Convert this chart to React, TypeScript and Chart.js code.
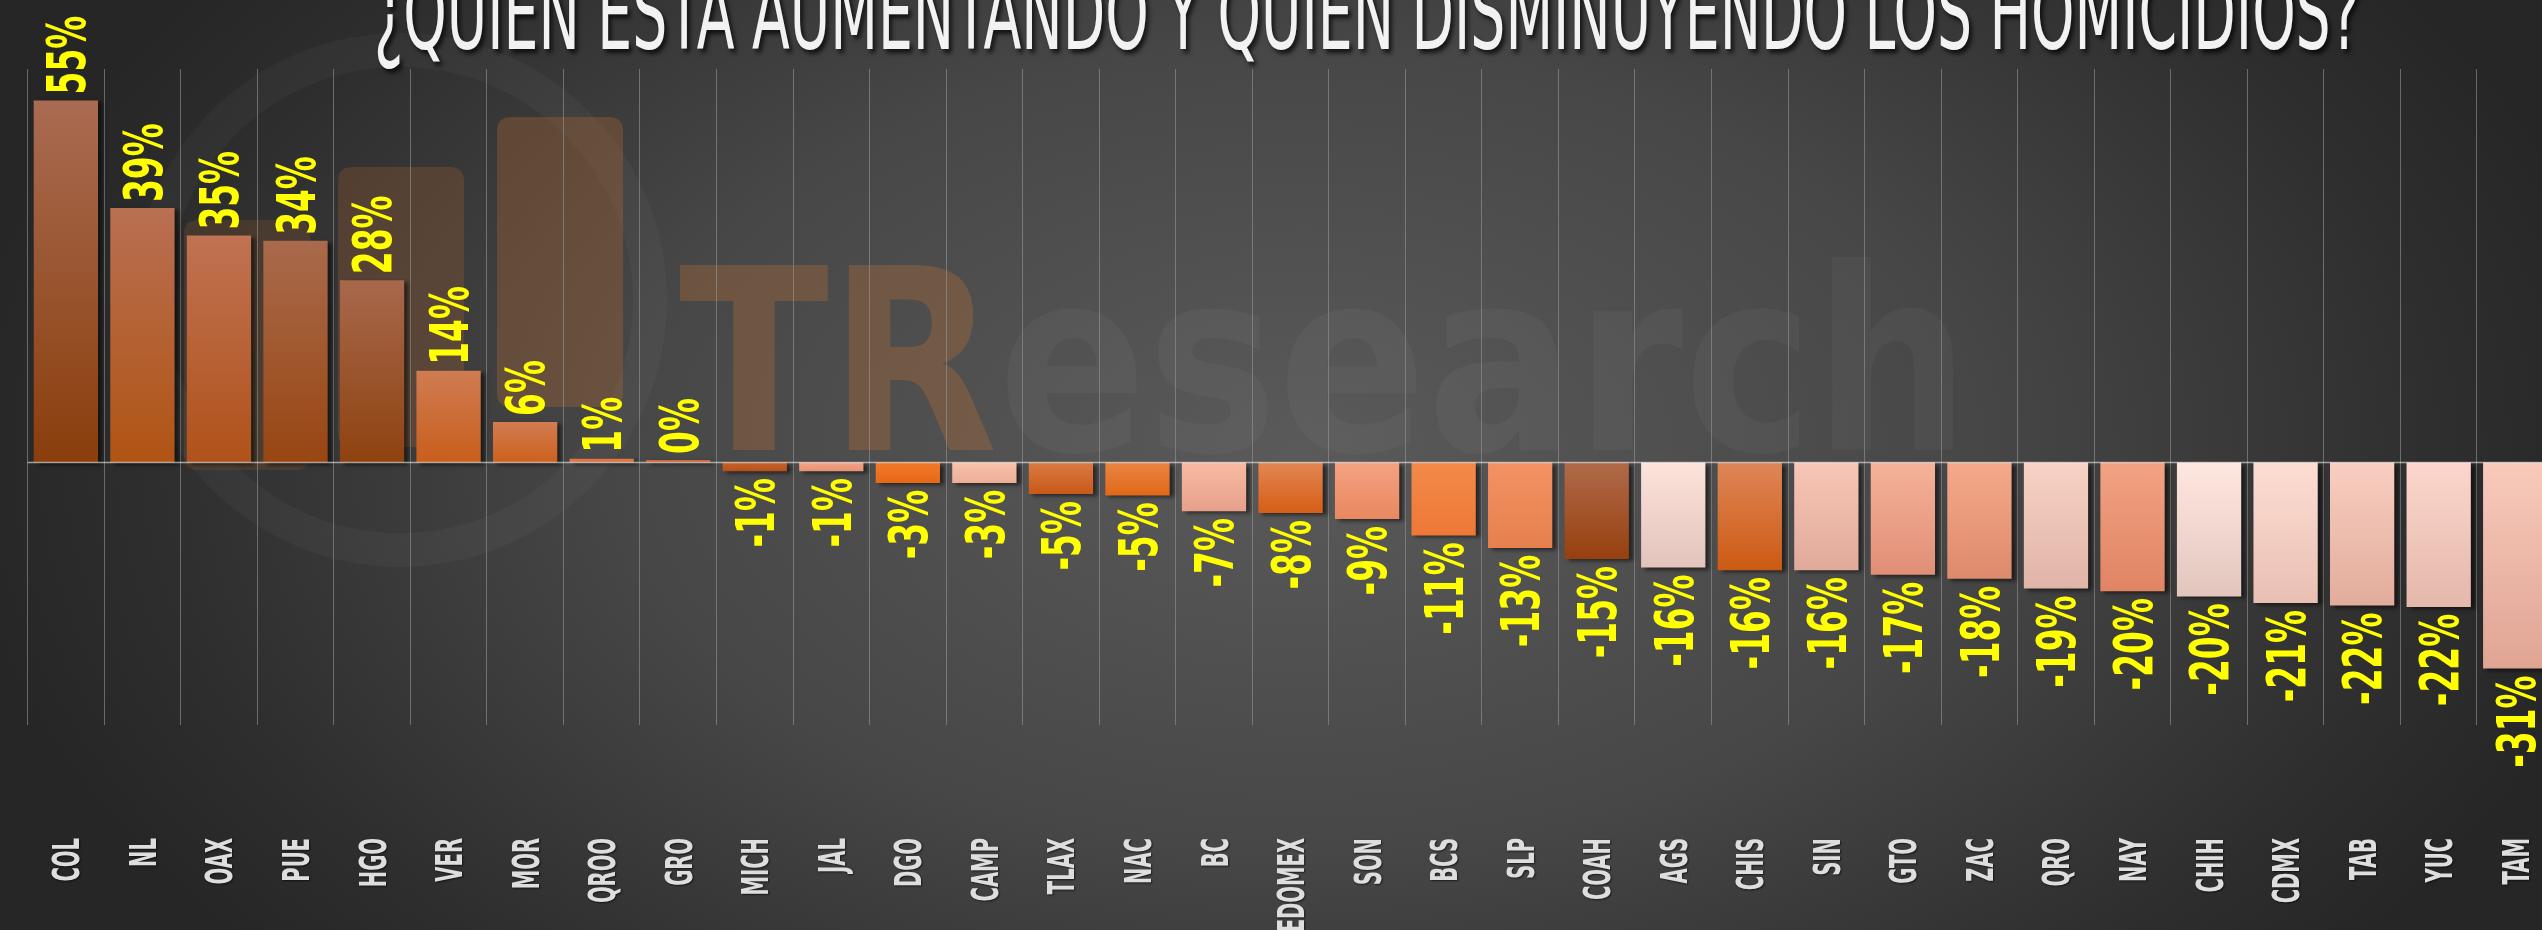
import React, { useEffect, useRef } from 'react';
import { Chart, registerables } from 'chart.js';

Chart.register(...registerables);

const TITLE = '¿QUIEN ESTA AUMENTANDO Y QUIEN DISMINUYENDO LOS HOMICIDIOS?';
const WATERMARK_A = 'TR';
const WATERMARK_B = 'esearch';

const categories = [
  'COL', 'NL', 'OAX', 'PUE', 'HGO', 'VER', 'MOR', 'QROO', 'GRO', 'MICH', 'JAL',
  'DGO', 'CAMP', 'TLAX', 'NAC', 'BC', 'EDOMEX', 'SON', 'BCS', 'SLP', 'COAH', 'AGS',
  'CHIS', 'SIN', 'GTO', 'ZAC', 'QRO', 'NAY', 'CHIH', 'CDMX', 'TAB', 'YUC', 'TAM',
];

const values = [
  55.2, 38.8, 34.6, 33.8, 27.8, 14.0, 6.2, 0.6, 0.4, -1.3, -1.3,
  -3.1, -3.1, -4.8, -5.0, -7.4, -7.7, -8.6, -11.1, -13.0, -14.7, -16.0,
  -16.4, -16.4, -17.1, -17.7, -19.2, -19.6, -20.4, -21.4, -21.8, -22.0, -31.4,
];

const topColors = [
  '#a96b52', '#b96f52', '#c07252', '#a96a4c', '#a8684c', '#cf7c52', '#d27c52', '#e07a4a', '#cc6c42', '#c8642a', '#f2a484',
  '#f27a2a', '#f8c2aa', '#da7a42', '#ea8444', '#f8baa2', '#e28652', '#f4a282', '#f28a4a', '#f49262', '#b06a4a', '#fde3db',
  '#de8658', '#f8c6b6', '#f5b29a', '#f4aa8a', '#f8d2c6', '#f2a282', '#fee7df', '#fdddd3', '#f8cec0', '#fcd6cc', '#f8caba',
];

const bottomColors = [
  '#8a3e0c', '#b05414', '#b0521a', '#984612', '#8e420f', '#c85e1c', '#cc601c', '#d8683a', '#c05c30', '#b6501a', '#e89274',
  '#e66816', '#eeae96', '#c85818', '#e06818', '#e6a08a', '#d65e16', '#e88860', '#ee7836', '#e6804e', '#96400e', '#e2c4bc',
  '#cc5a12', '#e0aa9a', '#e08f76', '#de8a6c', '#e0b4a8', '#e08464', '#e2c6be', '#eabfb3', '#e2ac9c', '#e4b8aa', '#e0a494',
];

const W = 2600;
const H = 930;

function rotText(
  ctx: CanvasRenderingContext2D,
  text: string,
  x: number,
  y: number,
  align: CanvasTextAlign,
  font: string,
  capH: number,
  squeeze: number,
  color: string
) {
  ctx.save();
  ctx.translate(x, y);
  ctx.rotate(-Math.PI / 2);
  ctx.scale(squeeze, 1);
  ctx.font = font;
  ctx.textAlign = align;
  ctx.textBaseline = 'alphabetic';
  ctx.fillStyle = color;
  ctx.fillText(text, 0, capH / 2);
  ctx.restore();
}

function rrect(ctx: CanvasRenderingContext2D, x: number, y: number, w: number, h: number, r: number) {
  ctx.beginPath();
  ctx.moveTo(x + r, y);
  ctx.lineTo(x + w - r, y);
  ctx.quadraticCurveTo(x + w, y, x + w, y + r);
  ctx.lineTo(x + w, y + h - r);
  ctx.quadraticCurveTo(x + w, y + h, x + w - r, y + h);
  ctx.lineTo(x + r, y + h);
  ctx.quadraticCurveTo(x, y + h, x, y + h - r);
  ctx.lineTo(x, y + r);
  ctx.quadraticCurveTo(x, y, x + r, y);
  ctx.closePath();
}

const decorPlugin = {
  id: 'decor',
  beforeDraw(chart: any) {
    const ctx: CanvasRenderingContext2D = chart.ctx;
    ctx.save();
    ctx.beginPath();
    ctx.arc(400, 300, 250, 0, Math.PI * 2);
    ctx.strokeStyle = 'rgba(255,255,255,0.03)';
    ctx.lineWidth = 34;
    ctx.stroke();
    ctx.fillStyle = 'rgba(175,100,45,0.2)';
    rrect(ctx, 184, 220, 126, 250, 14);
    ctx.fill();
    ctx.fillStyle = 'rgba(175,100,45,0.26)';
    rrect(ctx, 338, 167, 126, 280, 14);
    ctx.fill();
    ctx.fillStyle = 'rgba(185,110,50,0.3)';
    rrect(ctx, 497, 117, 126, 290, 14);
    ctx.fill();
    ctx.font = 'bold 254px "DejaVu Sans"';
    ctx.textBaseline = 'alphabetic';
    ctx.textAlign = 'left';
    ctx.translate(679, 450);
    ctx.scale(0.865, 1);
    ctx.fillStyle = 'rgba(200,115,50,0.3)';
    ctx.fillText(WATERMARK_A, 0, 0);
    const wA = ctx.measureText(WATERMARK_A).width;
    ctx.fillStyle = 'rgba(255,255,255,0.035)';
    ctx.fillText(WATERMARK_B, wA, 0);
    ctx.restore();
  },
  beforeDatasetsDraw(chart: any) {
    const ctx: CanvasRenderingContext2D = chart.ctx;
    ctx.save();
    ctx.shadowColor = 'rgba(0,0,0,0.55)';
    ctx.shadowOffsetX = 4;
    ctx.shadowOffsetY = 2;
    ctx.shadowBlur = 4;
  },
  afterDatasetsDraw(chart: any) {
    const ctx: CanvasRenderingContext2D = chart.ctx;
    ctx.restore();
    const xs = chart.scales.x;
    const ys = chart.scales.y;
    const area = chart.chartArea;
    const y0 = ys.getPixelForValue(0);
    ctx.save();
    ctx.strokeStyle = 'rgba(255,255,255,0.55)';
    ctx.lineWidth = 1.5;
    ctx.beginPath();
    ctx.moveTo(area.left, y0);
    ctx.lineTo(W, y0);
    ctx.stroke();
    ctx.restore();
    values.forEach((v, i) => {
      const x = xs.getPixelForValue(i);
      const py = ys.getPixelForValue(v);
      const txt = `${Math.round(v)}%`;
      if (v >= 0) {
        rotText(ctx, txt, x, py - 6, 'left', 'bold 53px "DejaVu Sans"', 38.6, 0.62, '#ffff00');
      } else {
        rotText(ctx, txt, x, py + 7, 'right', 'bold 53px "DejaVu Sans"', 38.6, 0.62, '#ffff00');
      }
    });
    ctx.save();
    ctx.shadowColor = 'rgba(0,0,0,0.6)';
    ctx.shadowOffsetX = 1;
    ctx.shadowOffsetY = 1;
    ctx.shadowBlur = 2;
    categories.forEach((c, i) => {
      const x = xs.getPixelForValue(i);
      rotText(ctx, c, x, 838, 'right', 'bold 37px "DejaVu Sans"', 27, 0.53, '#dedede');
    });
    ctx.restore();
  },
  afterDraw(chart: any) {
    const ctx: CanvasRenderingContext2D = chart.ctx;
    ctx.save();
    ctx.font = '100px "DejaVu Sans"';
    ctx.textAlign = 'center';
    ctx.textBaseline = 'alphabetic';
    const w = ctx.measureText(TITLE).width;
    const sq = 1986 / w;
    ctx.translate(1367, 49);
    ctx.scale(sq, 1);
    ctx.shadowColor = 'rgba(0,0,0,0.7)';
    ctx.shadowOffsetX = 3;
    ctx.shadowOffsetY = 4;
    ctx.shadowBlur = 4;
    ctx.fillStyle = '#f2f2f2';
    ctx.fillText(TITLE, 0, 0);
    ctx.restore();
  },
};

export default function App() {
  const ref = useRef<HTMLCanvasElement | null>(null);

  useEffect(() => {
    if (!ref.current) return;
    const chart = new Chart(ref.current, {
      type: 'bar',
      data: {
        labels: categories,
        datasets: [
          {
            data: values,
            backgroundColor: (c: any) => {
              const i = c.dataIndex;
              const ch = c.chart;
              if (c.type !== 'data' || !ch.chartArea || !ch.scales.y) return topColors[i ?? 0];
              const ys = ch.scales.y;
              const p0 = ys.getPixelForValue(0);
              const p1 = ys.getPixelForValue(values[i]);
              const top = Math.min(p0, p1);
              const bot = Math.max(p0, p1);
              if (bot - top < 2) return topColors[i];
              const g = ch.ctx.createLinearGradient(0, top, 0, bot);
              g.addColorStop(0, topColors[i]);
              g.addColorStop(1, bottomColors[i]);
              return g;
            },
            borderWidth: 0,
            barPercentage: 0.84,
            categoryPercentage: 1,
          },
        ],
      },
      options: {
        responsive: false,
        animation: false,
        devicePixelRatio: 1,
        layout: { padding: { left: 27.6, right: 46.5, top: 69, bottom: 0 } },
        plugins: {
          legend: { display: false },
          title: { display: false },
          tooltip: { enabled: false },
        },
        scales: {
          x: {
            offset: true,
            grid: { display: true, offset: true, color: 'rgba(150,150,150,0.6)', lineWidth: 1, drawTicks: false },
            border: { display: false },
            ticks: { display: false },
            afterFit: (s: any) => {
              s.height = 205;
            },
          },
          y: {
            display: false,
            min: -40,
            max: 60,
          },
        },
      },
      plugins: [decorPlugin],
    });
    return () => chart.destroy();
  }, []);

  return (
    <div
      style={{
        position: 'fixed',
        left: 0,
        top: 0,
        width: 2542,
        height: 930,
        overflow: 'hidden',
        background:
          'radial-gradient(ellipse 1350px 800px at 1300px 450px, #5a5a5a 0%, #474747 50%, #2e2e2e 85%, #262626 100%)',
      }}
    >
      <canvas ref={ref} width={W} height={H} style={{ display: 'block', width: W, height: H }} />
    </div>
  );
}
